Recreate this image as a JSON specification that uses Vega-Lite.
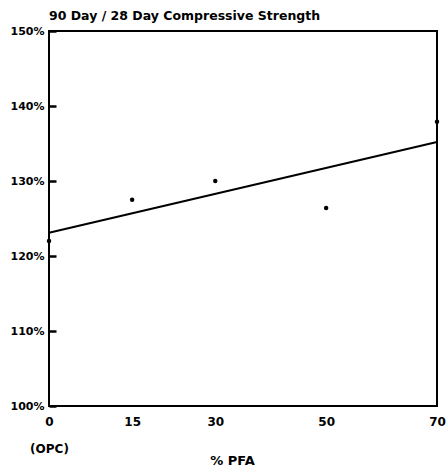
{
  "$schema": "https://vega.github.io/schema/vega-lite/v6.json",
  "autosize": {"type": "none"},
  "padding": {"left": 49, "top": 31, "right": 11, "bottom": 63},
  "width": 388,
  "height": 375,
  "background": "white",
  "config": {
    "font": "DejaVu Sans",
    "view": {"stroke": "black", "strokeWidth": 2},
    "axis": {"grid": false, "domain": false}
  },
  "title": {
    "text": "90 Day / 28 Day Compressive Strength",
    "anchor": "start",
    "frame": "group",
    "fontSize": 12.5,
    "fontWeight": "bold",
    "font": "DejaVu Sans",
    "color": "black",
    "offset": 3
  },
  "datasets": {
    "points": [
      {"pfa": 0, "ratio": 122.0},
      {"pfa": 15, "ratio": 127.5},
      {"pfa": 30, "ratio": 130.0},
      {"pfa": 50, "ratio": 126.4},
      {"pfa": 70, "ratio": 137.9}
    ],
    "fit": [
      {"pfa": 0, "ratio": 123.1},
      {"pfa": 70, "ratio": 135.2}
    ]
  },
  "encoding": {
    "x": {
      "field": "pfa",
      "type": "quantitative",
      "scale": {"domain": [0, 70], "nice": false, "zero": false},
      "axis": {
        "values": [0, 15, 30, 50, 70],
        "ticks": false,
        "labelPadding": 10,
        "labelFontSize": 12,
        "labelFontWeight": "bold",
        "labelColor": "black",
        "labelLineHeight": 27,
        "labelExpr": "datum.value == 0 ? ['0', '(OPC)'] : datum.label",
        "labelFlush": false,
        "title": "% PFA",
        "titleFontSize": 13,
        "titleFontWeight": "bold",
        "titleColor": "black",
        "titleX": 183,
        "titleY": 48
      }
    },
    "y": {
      "field": "ratio",
      "type": "quantitative",
      "scale": {"domain": [100, 150], "nice": false, "zero": false},
      "axis": {
        "values": [100, 110, 120, 130, 140, 150],
        "offset": -7,
        "ticks": true,
        "tickSize": 7,
        "tickWidth": 2.5,
        "tickColor": "black",
        "tickOpacity": 1,
        "labelPadding": 5,
        "labelFontSize": 11,
        "labelFontWeight": "bold",
        "labelColor": "black",
        "labelExpr": "datum.value + '%'",
        "title": null,
        "zindex": 1
      }
    }
  },
  "layer": [
    {
      "data": {"name": "fit"},
      "mark": {"type": "line", "color": "black", "strokeWidth": 2}
    },
    {
      "data": {"name": "points"},
      "mark": {"type": "circle", "color": "black", "opacity": 1, "size": 20}
    }
  ]
}
